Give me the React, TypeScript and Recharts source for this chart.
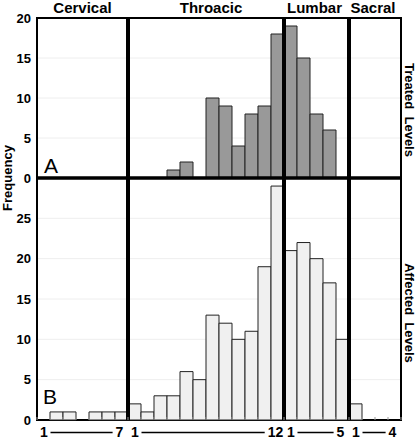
import React from 'react';
import {
  BarChart,
  Bar,
  XAxis,
  YAxis,
  CartesianGrid,
  ReferenceLine,
  ReferenceArea,
} from 'recharts';

const levels = [
  'C1', 'C2', 'C3', 'C4', 'C5', 'C6', 'C7',
  'T1', 'T2', 'T3', 'T4', 'T5', 'T6', 'T7', 'T8', 'T9', 'T10', 'T11', 'T12',
  'L1', 'L2', 'L3', 'L4', 'L5',
  'S1', 'S2', 'S3', 'S4',
];

const treated = [
  0, 0, 0, 0, 0, 0, 0,
  0, 0, 0, 1, 2, 0, 10, 9, 4, 8, 9, 18,
  19, 15, 8, 6, 0,
  0, 0, 0, 0,
];

const affected = [
  0, 1, 1, 0, 1, 1, 1,
  2, 1, 3, 3, 6, 5, 13, 12, 10, 11, 19, 29,
  21, 22, 20, 17, 10,
  2, 0, 0, 0,
];

const regionNames = ['Cervical', 'Throacic', 'Lumbar', 'Sacral'];
const regionStart = ['C1', 'T1', 'L1', 'S1'];
const regionEnd = ['C7', 'T12', 'L5', 'S4'];
const regionCount = [7, 12, 5, 4];
const dividerAt = ['T1', 'L1', 'S1'];

const topTicks = [0, 5, 10, 15, 20];
const bottomTicks = [0, 5, 10, 15, 20, 25];

const data = levels.map((level, i) => ({
  level,
  treated: treated[i],
  affected: affected[i],
}));

const FONT = '"Liberation Sans", Arial, Helvetica, sans-serif';
const regionLabelDx = [0, 5, -2, -2];

const tickStyle = { fontSize: 13, fontWeight: 'bold', fill: '#000', fontFamily: FONT };

const makeRegionLabel = (name: string, dx: number) => (props: any) => {
  const vb = props.viewBox || {};
  return (
    <text
      x={vb.x + vb.width / 2 + dx}
      y={vb.y - 5.5}
      textAnchor="middle"
      fontFamily={FONT}
      fontWeight="bold"
      fontSize={15}
      fill="#000"
    >
      {name}
    </text>
  );
};

const makeLetter = (letter: string, dx: number, dy: number) => (props: any) => {
  const vb = props.viewBox || {};
  return (
    <text
      x={vb.x + dx}
      y={vb.y + vb.height - dy}
      fontFamily={FONT}
      fontSize={21}
      fill="#000"
    >
      {letter}
    </text>
  );
};

const makeSideLabel = (text: string, dy: number) => (props: any) => {
  const vb = props.viewBox || {};
  const cx = vb.x + vb.width / 2;
  const cy = vb.y + vb.height / 2 + dy;
  return (
    <text
      x={cx}
      y={cy}
      transform={`rotate(90, ${cx}, ${cy})`}
      textAnchor="middle"
      dominantBaseline="central"
      fontFamily={FONT}
      fontWeight="bold"
      fontSize={13}
      fill="#000"
      style={{ whiteSpace: 'pre' }}
    >
      {text}
    </text>
  );
};

const FrequencyLabel = (props: any) => {
  const vb = props.viewBox || {};
  const cx = vb.x + 7;
  const cy = vb.y + vb.height;
  return (
    <text
      x={cx}
      y={cy}
      transform={`rotate(-90, ${cx}, ${cy})`}
      textAnchor="middle"
      dominantBaseline="central"
      fontFamily={FONT}
      fontWeight="bold"
      fontSize={13}
      fill="#000"
    >
      Frequency
    </text>
  );
};

const LevelTick = (props: any) => {
  const { x, y, payload } = props;
  const half = payload && typeof payload.offset === 'number' && payload.offset > 0 ? payload.offset : 6.5;
  const lv = payload.value;
  const s = regionStart.indexOf(lv);
  const e = regionEnd.indexOf(lv);
  const isLast = lv === levels[levels.length - 1];
  const items: any[] = [];
  items.push(<line key="tk" x1={x - half} x2={x - half} y1={y} y2={y - 3} stroke="#999" strokeWidth={1} />);
  if (isLast) {
    items.push(<line key="tk2" x1={x + half} x2={x + half} y1={y} y2={y - 3} stroke="#999" strokeWidth={1} />);
  }
  if (s >= 0) {
    const n = regionCount[s];
    const lastW = String(n).length * 7.8;
    const endX = x + (n - 1) * 2 * half - 2 - lastW / 2 - 3;
    items.push(
      <text key="s" x={x + 0.5} y={y + 17} textAnchor="middle" fontFamily={FONT} fontWeight="bold" fontSize={14} fill="#000">
        1
      </text>
    );
    items.push(<line key="ln" x1={x + 7} x2={endX} y1={y + 12.5} y2={y + 12.5} stroke="#000" strokeWidth={1.5} />);
  }
  if (e >= 0) {
    items.push(
      <text key="e" x={x - 2} y={y + 17} textAnchor="middle" fontFamily={FONT} fontWeight="bold" fontSize={14} fill="#000">
        {String(regionCount[e])}
      </text>
    );
  }
  return <g>{items}</g>;
};

const TopChart = () => (
  <BarChart
    width={418}
    height={440}
    data={data}
    margin={{ top: 18, right: 0, bottom: 262, left: 0 }}
    barCategoryGap={0}
    barGap={0}
  >
    <CartesianGrid vertical={false} stroke="#eeeeee" />
    <XAxis dataKey="level" hide />
    <YAxis
      domain={[0, 20]}
      ticks={topTicks}
      width={37}
      axisLine={false}
      tickLine={false}
      tickSize={0}
      tickMargin={6}
      tick={tickStyle}
      interval={0}
      label={FrequencyLabel}
    />
    <YAxis
      yAxisId="r"
      orientation="right"
      width={17}
      domain={[0, 1]}
      tick={false}
      axisLine={false}
      tickLine={false}
      label={makeSideLabel('Treated  Levels', 12)}
    />
    <Bar dataKey="treated" fill="#999999" stroke="#222" strokeWidth={1} isAnimationActive={false} />
    {regionNames.map((name, i) => (
      <ReferenceArea
        key={name}
        x1={regionStart[i]}
        x2={regionEnd[i]}
        y1={0}
        y2={20}
        fill="none"
        fillOpacity={0}
        stroke="none"
        label={makeRegionLabel(name, regionLabelDx[i])}
      />
    ))}
    <ReferenceArea
      x1={levels[0]}
      x2={levels[levels.length - 1]}
      y1={0}
      y2={20}
      fill="none"
      fillOpacity={0}
      stroke="#000"
      strokeWidth={2}
      label={makeLetter('A', 7, 5)}
    />
    {dividerAt.map((lv) => (
      <ReferenceLine key={lv} x={lv} position="start" stroke="#000" strokeWidth={4} />
    ))}
    <ReferenceLine y={0} stroke="#000" strokeWidth={3} />
  </BarChart>
);

const BottomChart = () => (
  <BarChart
    width={418}
    height={440}
    data={data}
    margin={{ top: 178, right: 0, bottom: 0, left: 0 }}
    barCategoryGap={0}
    barGap={0}
  >
    <CartesianGrid vertical={false} stroke="#eeeeee" />
    <XAxis
      dataKey="level"
      height={20}
      axisLine={false}
      tickLine={false}
      tickSize={0}
      tickMargin={0}
      interval={0}
      tick={LevelTick}
    />
    <YAxis
      domain={[0, 30]}
      ticks={bottomTicks}
      width={37}
      axisLine={false}
      tickLine={false}
      tickSize={0}
      tickMargin={6}
      tick={tickStyle}
      interval={0}
    />
    <YAxis
      yAxisId="r"
      orientation="right"
      width={17}
      domain={[0, 1]}
      tick={false}
      axisLine={false}
      tickLine={false}
      label={makeSideLabel('Affected  Levels', 14)}
    />
    <Bar dataKey="affected" fill="#f0f0f0" stroke="#222" strokeWidth={1} isAnimationActive={false} />
    <ReferenceArea
      x1={levels[0]}
      x2={levels[levels.length - 1]}
      y1={0}
      y2={30}
      fill="none"
      fillOpacity={0}
      stroke="#000"
      strokeWidth={2}
      label={makeLetter('B', 6, 16)}
    />
    {dividerAt.map((lv) => (
      <ReferenceLine key={lv} x={lv} position="start" stroke="#000" strokeWidth={4} />
    ))}
    <ReferenceLine y={30} stroke="#000" strokeWidth={3} />
  </BarChart>
);

export default function App() {
  return (
    <div style={{ position: 'absolute', left: 0, top: 0, width: 418, height: 440, background: '#fff', fontFamily: FONT }}>
      <div style={{ position: 'absolute', left: 0, top: 0 }}>
        <TopChart />
      </div>
      <div style={{ position: 'absolute', left: 0, top: 0 }}>
        <BottomChart />
      </div>
    </div>
  );
}
